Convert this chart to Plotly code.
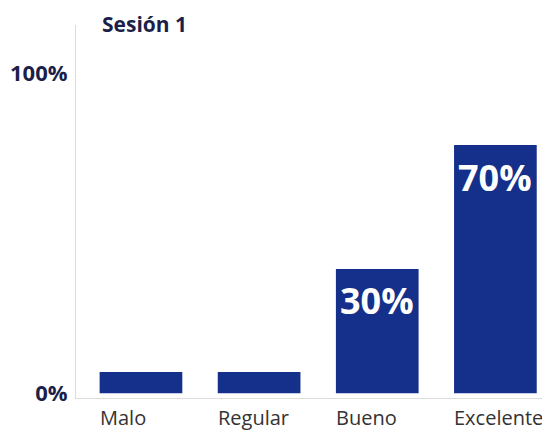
import plotly.graph_objects as go

categories = ["Malo", "Regular", "Bueno", "Excelente"]
values = [6.6, 6.6, 38.8, 77.5]
bar_labels = ["", "", "30%", "70%"]
tick_vals = [0, 100]
tick_text = ["0%", "100%"]

BAR_W = 0.7
PLOT_W = 469
X_RANGE = [-0.55, 3.42]
px_per_cat = PLOT_W / (X_RANGE[1] - X_RANGE[0])
half_bar_px = BAR_W / 2 * px_per_cat

fig = go.Figure(go.Bar(
    x=categories, y=values,
    marker=dict(color="#15308a", line=dict(width=0)),
    width=BAR_W,
    hoverinfo="skip",
))

# value labels inside the top of the bars
for cat, val, lab in zip(categories, values, bar_labels):
    if lab:
        fig.add_annotation(
            x=cat, y=val, xref="x", yref="y", text=f"<b>{lab}</b>",
            showarrow=False, xanchor="center", yanchor="middle", yshift=-32,
            font=dict(family="Open Sans", size=36, color="white"),
        )

# category labels, left aligned with each bar
for cat in categories:
    fig.add_annotation(
        x=cat, y=0, xref="x", yref="paper", text=cat, showarrow=False,
        xanchor="left", yanchor="top", xshift=-half_bar_px - 2, yshift=-4,
        font=dict(family="Open Sans", size=20, color="#333333"),
    )

fig.add_annotation(
    text="<b>Sesión 1</b>", xref="paper", yref="paper",
    x=24 / PLOT_W, xanchor="left",
    y=1 + 17 / 373, yanchor="top", showarrow=False,
    font=dict(family="Open Sans", size=21, color="#1b1f4a"),
)

fig.update_layout(
    width=550, height=433,
    margin=dict(l=68, r=13, t=17, b=43, autoexpand=False),
    paper_bgcolor="white", plot_bgcolor="white",
    showlegend=False,
    xaxis=dict(range=X_RANGE, showgrid=False, zeroline=False,
               showline=True, linecolor="#dcdcdc", linewidth=1, ticks="",
               showticklabels=False, automargin=False),
    yaxis=dict(range=[-1.5, 115], showgrid=False, zeroline=False,
               showline=True, linecolor="#dcdcdc", linewidth=1,
               tickvals=tick_vals, ticktext=tick_text, ticks="",
               automargin=False,
               tickfont=dict(family="Open Sans", size=22, color="#1b1f4a", weight="bold"),
               ticklabelstandoff=3),
)

fig.write_html("out.html")
